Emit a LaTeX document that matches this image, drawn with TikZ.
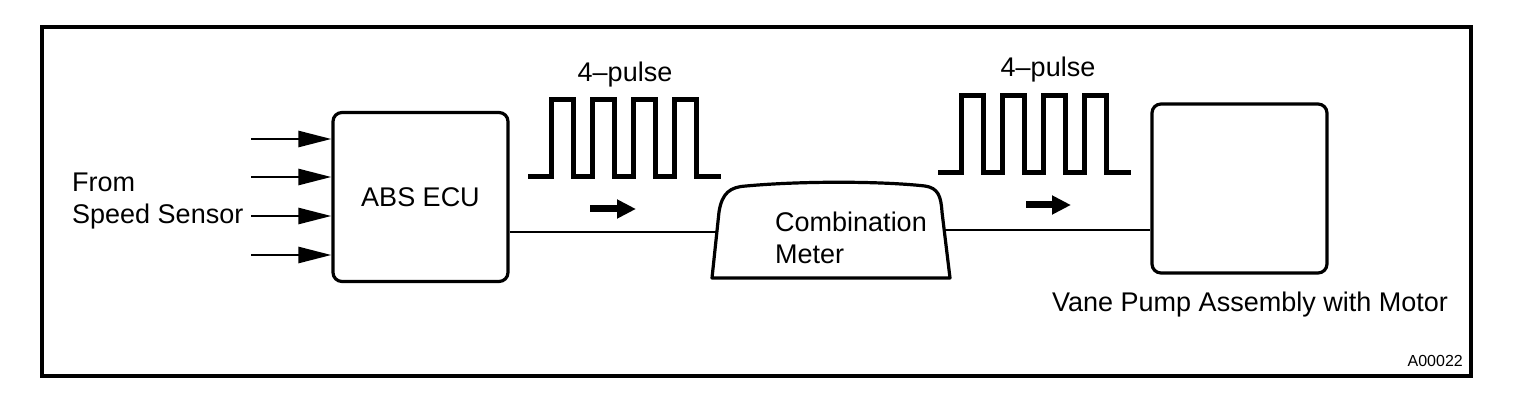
\documentclass[tikz,border=0pt]{standalone}
\usepackage{fontspec}
\setmainfont{Liberation Sans}
\usetikzlibrary{arrows.meta,positioning}

\begin{document}
\begin{tikzpicture}[
    x=1pt, y=-1pt,
    frame/.style={line width=3.5pt},
    unit/.style={draw, line width=3.2pt, rounded corners=9pt, minimum width=175pt, minimum height=169pt, inner sep=0pt, font=\fontsize{27}{32}\selectfont},
    wire/.style={line width=2.2pt},
    feed/.style={line width=2.6pt, -{Triangle[length=33pt,width=16pt]}},
    pulse/.style={line width=5pt, line join=miter},
    flow/.style={line width=7pt, -{Triangle[length=19pt,width=18pt]}},
    txt/.style={inner sep=0pt, font=\fontsize{27}{32}\selectfont, align=left},
    tag/.style={inner sep=0pt, font=\fontsize{16}{18}\selectfont}
]
    \useasboundingbox (0,0) rectangle (1520,406);

    % Frame
    \draw[frame] (42,27) rectangle (1471,376);

    % ECU and pump
    \node[unit] (ecu) at (420.5,197) {ABS ECU};
    \node[unit] (pump) at (1239.5,188.5) {};
    \node[txt, anchor=north] (pumplbl) at (1250,292) {Vane Pump Assembly with Motor};

    % Sensor inputs
    \node[txt, anchor=west] (src) at (72,201) {From\\Speed Sensor};
    \foreach \yy [count=\i] in {139,177,216,255} {
        \coordinate (in\i) at (251,\yy);
        \draw[feed] (in\i) -- (in\i -| ecu.west);
    }

    % Combination meter
    \node[txt] (meter) at (851,238) {Combination\\Meter};
    \draw[line width=3.2pt, line join=round] (712,278) -- (719,212)
        .. controls (722,193) and (730,187) .. (746,186)
        .. controls (800,181) and (880,181) .. (925,186)
        .. controls (938,188) and (941,196) .. (942,212)
        -- (950,278) -- cycle;
    \coordinate (meterin) at (717,232);
    \coordinate (meterout) at (945,230);

    % Wires
    \draw[wire] (ecu.east |- meterin) -- (meterin);
    \draw[wire] (meterout) -- (meterout -| pump.west);

    % Pulse trains
    \foreach \px/\py in {528/177, 938/173} {
        \draw[pulse] (\px,\py) -- ++(23,0)
            \foreach \k in {1,...,4} { -- ++(0,-77) -- ++(22,0) -- ++(0,77) -- ++(19,0) }
            -- ++(6,0);
    }
    \node[txt] (cnt1) at (625,75) {4--pulse};
    \node[txt] (cnt2) at (1048,70) {4--pulse};

    % Direction marks
    \coordinate (d1a) at (590,209);
    \coordinate (d1b) at (636,209);
    \coordinate (d2a) at (1026,205);
    \coordinate (d2b) at (1071,205);
    \draw[flow] (d1a) -- (d1b);
    \draw[flow] (d2a) -- (d2b);

    \node[tag, anchor=east] (fig) at (1463,361) {A00022};
\end{tikzpicture}
\end{document}
